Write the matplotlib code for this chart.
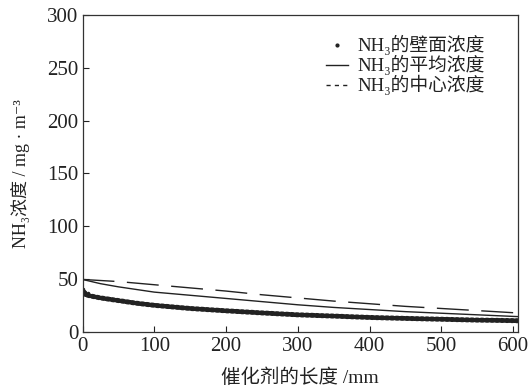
import matplotlib
matplotlib.use("Agg")
import matplotlib.pyplot as plt
from matplotlib.lines import Line2D
from matplotlib.font_manager import FontProperties

# catalyst length (mm) and NH3 concentrations (mg/m3)
x_center = [0, 50, 100, 150, 200, 250, 300, 350, 400, 450, 500, 550, 600, 607]
nh3_center = [49.5, 47.5, 44.5, 41.5, 38.5, 35.0, 32.0, 29.0, 26.5, 24.0, 22.0, 20.0, 18.0, 17.8]

x_mean = [0, 25, 50, 100, 150, 200, 250, 300, 350, 400, 450, 500, 550, 600, 607]
nh3_mean = [49.5, 45.5, 42.5, 37.5, 34.5, 31.5, 28.5, 25.5, 23.0, 21.0, 19.0, 17.5, 16.0, 14.5, 14.3]

x_wall = [0, 10, 25, 50, 75, 100, 150, 200, 250, 300, 350, 400, 450, 500, 550, 600, 607]
nh3_wall = [36.0, 34.0, 32.0, 29.5, 27.0, 25.0, 22.0, 19.8, 17.8, 16.0, 14.8, 13.5, 12.6, 11.8, 11.0, 10.5, 10.4]

x_wall_scatter = [0, 2, 4, 7]
nh3_wall_scatter = [40.0, 38.5, 37.5, 36.5]

labels = ["NH₃的壁面浓度", "NH₃的平均浓度", "NH₃的中心浓度"]

families = ["Liberation Serif", "DejaVu Serif", "Noto Sans CJK SC"]
plt.rcParams["font.family"] = families
ink = "#222222"

fig = plt.figure(figsize=(5.3, 3.88), dpi=100)
ax = fig.add_axes([0.1557, 0.1451, 0.8217, 0.8162])

ax.plot(x_center, nh3_center, color=ink, lw=1.0, dashes=(23, 9))
ax.plot(x_mean, nh3_mean, color=ink, lw=1.0)
ax.plot(x_wall, nh3_wall, color=ink, lw=3.6, linestyle=(0, (0.4, 0.6)),
        dash_capstyle="round")
ax.plot(x_wall_scatter, nh3_wall_scatter, ".", color=ink, ms=3)

ax.set_xlim(0, 607)
ax.set_ylim(0, 300)
ax.set_xticks(range(0, 601, 100))
ax.set_yticks(range(0, 301, 50))
ax.tick_params(direction="in", length=4, width=0.8, colors=ink,
               labelsize=15, top=False, right=False)
ax.tick_params(axis="x", pad=4)
ax.tick_params(axis="y", pad=3)
for s in ax.spines.values():
    s.set_color("#333333")
    s.set_linewidth(0.9)

ax.set_xlabel("催化剂的长度 /mm", fontsize=14, color=ink, labelpad=9)
ax.set_ylabel("NH₃浓度 / mg · m⁻³", fontsize=13, color=ink, labelpad=12)

handles = [
    Line2D([], [], marker=".", ms=4, ls="none", color=ink),
    Line2D([], [], color=ink, lw=1.0),
    Line2D([], [], color=ink, lw=1.0, dashes=(3, 3)),
]
ax.legend(handles, labels, loc="upper right", bbox_to_anchor=(0.963, 0.99),
          frameon=False, prop=FontProperties(family=families, size=13.5),
          handlelength=1.2, handletextpad=0.5, labelspacing=0.0,
          labelcolor=ink)

fig.savefig("out.png", dpi=100)
